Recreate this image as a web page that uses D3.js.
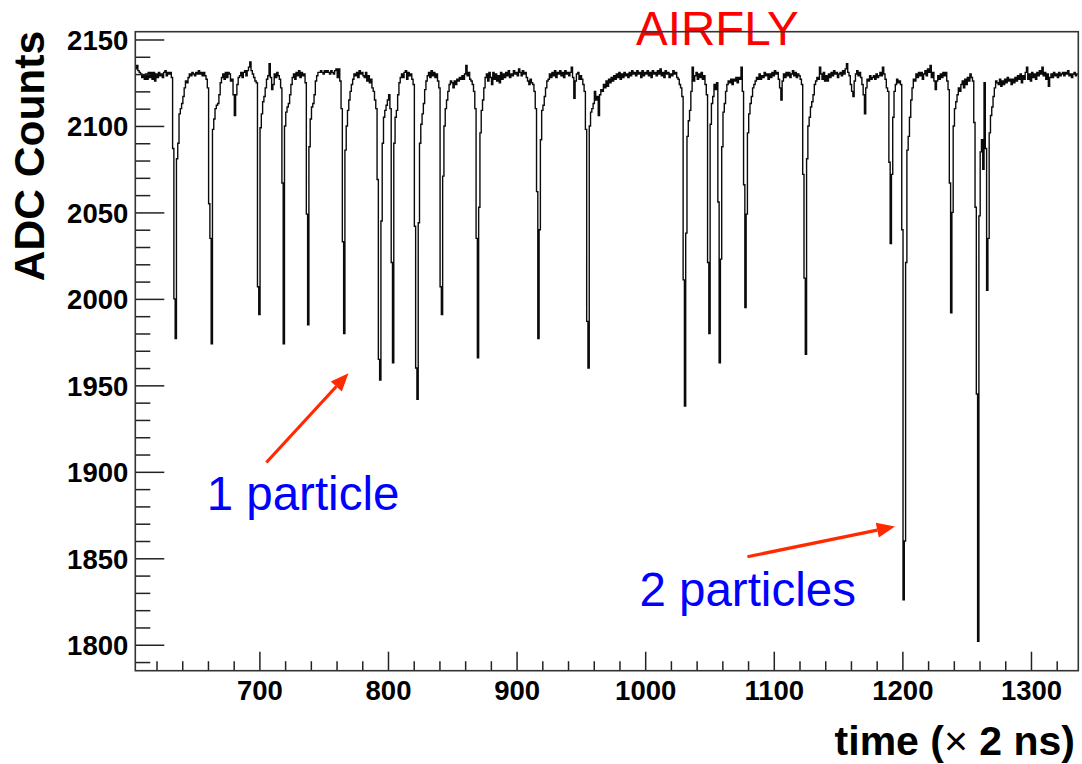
<!DOCTYPE html>
<html><head><meta charset="utf-8">
<script src="https://cdn.jsdelivr.net/npm/d3@7"></script>
<style>
body{margin:0;background:#fff}
svg{display:block}
text{font-family:"Liberation Sans", Arial, Helvetica, sans-serif}
</style>
</head><body>
<svg id="chart" width="1082" height="764"></svg>
<script>
// ADC trace: [time bin (x 2 ns), ADC counts]; each value holds until the next listed bin
const trace = [
[604,2133],[605,2135],[606,2132],[607,2131],[608,2130],[609,2128],[610,2129],[611,2127],[612,2130],[613,2127],
[614,2131],[615,2128],[616,2131],[617,2127],[618,2131],[619,2126],[620,2130],[621,2128],[622,2131],[623,2129],
[624,2130],[625,2128],[626,2131],[627,2132],[628,2129],[629,2131],[630,2130],[631,2131],[632,2128],
[633,2087],[634,2000],[635,1977],[636,2081],[637,2090],[638,2107],[639,2110],[640,2113],[641,2117],[642,2122],[643,2126],[644,2125],
[645,2128],[646,2130],[647,2129],[648,2131],[649,2130],[650,2129],[651,2131],[652,2130],[653,2132],[654,2130],
[655,2131],[656,2129],[657,2131],[658,2129],[659,2127],[660,2122],
[661,2055],[662,2035],[663,1974],[664,2098],[665,2104],[666,2110],[667,2112],[668,2113],[669,2118],[670,2125],[671,2128],
[672,2130],[673,2127],[674,2131],[675,2128],[676,2131],[677,2130],[678,2126],[679,2127],[680,2118],[681,2106],
[682,2118],[683,2124],[684,2128],[685,2129],[686,2131],[687,2128],[688,2131],[689,2132],[690,2129],[691,2132],
[692,2134],[693,2137],[694,2132],[695,2130],[696,2128],[697,2126],[698,2125],
[699,2007],[700,1991],[701,2099],[702,2107],[703,2114],[704,2117],[705,2122],[706,2127],
[707,2129],[708,2136],[709,2128],[710,2121],[711,2124],[712,2130],[713,2128],[714,2131],[715,2129],[716,2127],[717,2122],
[718,2067],[719,1974],[720,2100],[721,2108],[722,2111],[723,2113],[724,2118],[725,2124],[726,2128],
[727,2130],[728,2127],[729,2131],[730,2129],[731,2132],[732,2128],[733,2131],[734,2129],[735,2130],[736,2125],
[737,2049],[738,1985],[739,2088],[740,2104],[741,2111],[742,2113],[743,2118],[744,2126],
[745,2129],[746,2131],[747,2131],[748,2132],[749,2131],[750,2130],[751,2132],[752,2131],[753,2132],[754,2131],
[755,2130],[756,2132],[757,2131],[758,2130],[759,2132],[760,2133],[761,2128],[762,2133],[763,2126],
[764,2110],[765,2033],[766,1980],[767,2086],[768,2100],[769,2109],[770,2115],[771,2120],[772,2124],[773,2127],
[774,2130],[775,2129],[776,2131],[777,2128],[778,2132],[779,2130],[780,2131],[781,2129],[782,2128],[783,2131],
[784,2126],[785,2129],[786,2125],[787,2127],[788,2122],[789,2120],[790,2115],[791,2110],
[792,2069],[793,1965],[794,1953],[795,2045],[796,2090],[797,2105],[798,2109],[799,2112],[800,2115],
[801,2118],[802,2110],[803,2021],[804,1963],[805,2090],[806,2105],[807,2109],[808,2118],[809,2125],[810,2128],
[811,2130],[812,2128],[813,2131],[814,2132],[815,2127],[816,2131],[817,2129],[818,2130],[819,2127],[820,2124],
[821,2042],[822,1960],[823,1942],[824,2044],[825,2090],[826,2101],[827,2107],[828,2113],[829,2121],[830,2126],
[831,2129],[832,2131],[833,2128],[834,2132],[835,2129],[836,2131],[837,2128],[838,2130],[839,2126],[840,2122],
[841,2007],[842,1991],[843,2071],[844,2100],[845,2110],[846,2115],[847,2120],[848,2124],[849,2126],
[850,2125],[851,2122],[852,2126],[853,2124],[854,2127],[855,2126],[856,2128],[857,2127],[858,2129],[859,2127],
[860,2130],[861,2135],[862,2129],[863,2131],[864,2127],[865,2126],[866,2124],[867,2120],
[868,2110],[869,2035],[870,1966],[871,2053],[872,2096],[873,2109],[874,2115],[875,2122],[876,2128],
[877,2130],[878,2126],[879,2131],[880,2128],[881,2124],[882,2131],[883,2127],[884,2130],[885,2126],[886,2129],
[887,2125],[888,2131],[889,2127],[890,2130],[891,2128],[892,2131],[893,2129],[894,2132],[895,2128],[896,2130],
[897,2129],[898,2132],[899,2130],[900,2131],[901,2129],[902,2133],[903,2131],[904,2129],[905,2132],[906,2130],
[907,2131],[908,2128],[909,2126],[910,2124],[911,2127],[912,2125],[913,2124],[914,2120],
[915,2110],[916,2062],[917,1977],[918,2040],[919,2092],[920,2109],[921,2112],[922,2117],[923,2122],[924,2126],
[925,2127],[926,2130],[927,2128],[928,2131],[929,2129],[930,2132],[931,2128],[932,2131],[933,2130],[934,2132],
[935,2129],[936,2131],[937,2128],[938,2132],[939,2130],[940,2131],[941,2129],[942,2131],[943,2134],[944,2128],
[945,2116],[946,2126],[947,2130],[948,2131],[949,2127],[950,2129],[951,2127],[952,2124],[953,2120],
[954,2098],[955,1987],[956,1960],[957,2100],[958,2108],[959,2110],[960,2113],[961,2120],
[962,2115],[963,2117],[964,2106],[965,2118],[966,2121],[967,2120],[968,2124],[969,2122],[970,2126],[971,2123],
[972,2127],[973,2125],[974,2128],[975,2126],[976,2129],[977,2127],[978,2130],[979,2128],[980,2131],[981,2127],
[982,2130],[983,2128],[984,2131],[985,2129],[986,2130],[987,2128],[988,2131],[989,2129],[990,2132],[991,2130],
[992,2131],[993,2129],[994,2132],[995,2130],[996,2131],[997,2128],[998,2132],[999,2129],[1000,2131],[1001,2130],
[1002,2132],[1003,2129],[1004,2131],[1005,2128],[1006,2132],[1007,2130],[1008,2131],[1009,2129],[1010,2132],[1011,2130],
[1012,2133],[1013,2129],[1014,2131],[1015,2128],[1016,2132],[1017,2130],[1018,2131],[1019,2128],[1020,2130],[1021,2129],
[1022,2132],[1023,2130],[1024,2131],[1025,2128],[1026,2127],[1027,2124],[1028,2122],[1029,2117],
[1030,2011],[1031,1938],[1032,2038],[1033,2094],[1034,2103],[1035,2109],[1036,2120],[1037,2134],[1038,2126],
[1039,2129],[1040,2131],[1041,2127],[1042,2130],[1043,2128],[1044,2131],[1045,2127],[1046,2129],[1047,2124],[1048,2118],
[1049,2021],[1050,1980],[1051,2101],[1052,2113],[1053,2117],[1054,2124],[1055,2121],[1056,2125],
[1057,2056],[1058,1963],[1059,2023],[1060,2088],[1061,2108],[1062,2113],[1063,2120],[1064,2124],[1065,2126],
[1066,2125],[1067,2127],[1068,2124],[1069,2127],[1070,2126],[1071,2128],[1072,2125],[1073,2128],[1074,2127],[1075,2134],[1076,2120],
[1077,2066],[1078,1995],[1079,2049],[1080,2096],[1081,2107],[1082,2113],[1083,2117],[1084,2122],[1085,2124],[1086,2126],
[1087,2128],[1088,2127],[1089,2130],[1090,2127],[1091,2129],[1092,2128],[1093,2131],[1094,2129],[1095,2130],[1096,2127],
[1097,2130],[1098,2128],[1099,2131],[1100,2129],[1101,2132],[1102,2130],[1103,2131],[1104,2127],[1105,2122],[1106,2115],
[1107,2126],[1108,2130],[1109,2128],[1110,2131],[1111,2129],[1112,2131],[1113,2128],[1114,2130],[1115,2132],[1116,2129],
[1117,2131],[1118,2128],[1119,2130],[1120,2129],[1121,2127],[1122,2124],
[1123,2072],[1124,2012],[1125,1968],[1126,2081],[1127,2100],[1128,2105],[1129,2111],[1130,2114],[1131,2118],[1132,2124],
[1133,2126],[1134,2128],[1135,2127],[1136,2134],[1137,2130],[1138,2127],[1139,2131],[1140,2126],[1141,2129],[1142,2126],
[1143,2130],[1144,2128],[1145,2131],[1146,2129],[1147,2132],[1148,2130],[1149,2131],[1150,2128],[1151,2130],[1152,2131],
[1153,2129],[1154,2132],[1155,2130],[1156,2133],[1157,2136],[1158,2131],[1159,2129],[1160,2124],[1161,2120],[1162,2117],
[1163,2126],[1164,2130],[1165,2132],[1166,2129],[1167,2131],[1168,2128],[1169,2124],[1170,2118],[1171,2107],[1172,2122],
[1173,2127],[1174,2126],[1175,2129],[1176,2127],[1177,2128],[1178,2129],[1179,2127],[1180,2130],[1181,2128],[1182,2129],
[1183,2131],[1184,2129],[1185,2134],[1186,2130],[1187,2127],[1188,2122],[1189,2120],
[1190,2079],[1191,2032],[1192,2072],[1193,2105],[1194,2120],[1195,2124],[1196,2127],[1197,2125],[1198,2126],[1199,2124],
[1200,2040],[1201,1826],[1202,1860],[1203,2021],[1204,2086],[1205,2094],[1206,2105],[1207,2115],[1208,2122],[1209,2127],
[1210,2126],[1211,2130],[1212,2128],[1213,2131],[1214,2129],[1215,2131],[1216,2127],[1217,2130],[1218,2132],[1219,2129],
[1220,2133],[1221,2131],[1222,2135],[1223,2128],[1224,2131],[1225,2126],[1226,2121],[1227,2126],[1228,2129],[1229,2127],
[1230,2130],[1231,2128],[1232,2131],[1233,2129],[1234,2131],[1235,2126],[1236,2121],
[1237,2067],[1238,1992],[1239,2050],[1240,2100],[1241,2110],[1242,2114],[1243,2118],[1244,2122],
[1245,2120],[1246,2124],[1247,2126],[1248,2122],[1249,2127],[1250,2124],[1251,2128],[1252,2126],[1253,2130],[1254,2128],[1255,2126],
[1256,2102],[1257,2053],[1258,1945],[1259,1802],[1260,2048],[1261,2085],[1262,2092],[1263,2075],[1264,2125],[1265,2087],
[1266,2005],[1267,2035],[1268,2096],[1269,2106],[1270,2111],[1271,2117],[1272,2122],[1273,2126],
[1274,2125],[1275,2124],[1276,2127],[1277,2123],[1278,2126],[1279,2124],[1280,2127],[1281,2125],[1282,2128],[1283,2126],
[1284,2127],[1285,2124],[1286,2127],[1287,2125],[1288,2128],[1289,2126],[1290,2129],[1291,2127],[1292,2130],[1293,2125],
[1294,2129],[1295,2127],[1296,2131],[1297,2134],[1298,2127],[1299,2130],[1300,2126],[1301,2131],[1302,2128],[1303,2130],
[1304,2127],[1305,2131],[1306,2129],[1307,2132],[1308,2130],[1309,2134],[1310,2129],[1311,2131],[1312,2127],[1313,2130],
[1314,2123],[1315,2128],[1316,2130],[1317,2128],[1318,2131],[1319,2129],[1320,2130],[1321,2128],[1322,2131],[1323,2129],
[1324,2130],[1325,2131],[1326,2129],[1327,2131],[1328,2130],[1329,2132],[1330,2129],[1331,2130],[1332,2128],[1333,2130],
[1334,2131],[1335,2129],[1336,2130]
];
const xDomain = [603.5, 1336.8];
const yDomain = [1785, 2154.5];
const xTickValues = [700, 800, 900, 1000, 1100, 1200, 1300];
const yTickValues = [1800, 1850, 1900, 1950, 2000, 2050, 2100, 2150];
const annotations = [
  {text: "1 particle", t: 659, adc: 1878},
  {text: "2 particles", t: 995.5, adc: 1822.5}
];
const arrows = [
  {from: [705.4, 1905.4], to: [769.3, 1957]},
  {from: [1079.5, 1850.9], to: [1194.2, 1868.4]}
];

const svg = d3.select("#chart");
const M = {left: 135.3, right: 1078.3, top: 31.7, bottom: 670.7};
const x = d3.scaleLinear().domain(xDomain).range([M.left, M.right]);
const y = d3.scaleLinear().domain(yDomain).range([M.bottom, M.top]);

// title (frame drawn over it later)
svg.append("text").attr("x", 636).attr("y", 45)
  .attr("fill", "#ff0000").attr("font-size", 47.5).text("AIRFLY");

svg.append("clipPath").attr("id", "clip").append("rect")
  .attr("x", M.left).attr("y", M.top).attr("width", M.right - M.left).attr("height", M.bottom - M.top);

// histogram outline
const pts = trace.map(([t, v]) => [t - 0.5, v]);
pts.push([xDomain[1], trace[trace.length - 1][1]]);
const line = d3.line().x(d => x(d[0])).y(d => y(d[1])).curve(d3.curveStepAfter);
svg.append("path").attr("clip-path", "url(#clip)").datum(pts)
  .attr("d", line).attr("fill", "none").attr("stroke", "#0a0a0a").attr("stroke-width", 1.4);

// axes
const yMinor = d3.range(1790, 2151, 10).filter(v => v % 50 !== 0);
const xMinor = d3.range(620, 1337, 20).filter(v => v % 100 !== 0);
const gy = svg.append("g").attr("transform", `translate(${M.left},0)`);
gy.call(d3.axisLeft(y).tickValues(yMinor).tickSize(-15).tickFormat(""));
const gy2 = svg.append("g").attr("transform", `translate(${M.left},0)`);
gy2.call(d3.axisLeft(y).tickValues(yTickValues).tickSize(-29).tickPadding(7).tickFormat(d3.format("d")));
const gx = svg.append("g").attr("transform", `translate(0,${M.bottom})`);
gx.call(d3.axisBottom(x).tickValues(xMinor).tickSize(-9.5).tickFormat(""));
const gx2 = svg.append("g").attr("transform", `translate(0,${M.bottom})`);
gx2.call(d3.axisBottom(x).tickValues(xTickValues).tickSize(-19).tickPadding(10).tickFormat(d3.format("d")));
[gy, gy2, gx, gx2].forEach(g => {
  g.select(".domain").remove();
  g.selectAll(".tick line").attr("stroke", "#222").attr("stroke-width", 1.5);
  g.selectAll(".tick text").attr("font-family", "'Liberation Sans', Arial, sans-serif")
    .attr("font-size", 27.5).attr("font-weight", "bold").attr("fill", "#000");
});
gy2.selectAll(".tick text").attr("dy", "0.36em");

// frame
svg.append("rect").attr("x", M.left).attr("y", M.top)
  .attr("width", M.right - M.left).attr("height", M.bottom - M.top)
  .attr("fill", "none").attr("stroke", "#333").attr("stroke-width", 1.6);

// axis titles
svg.append("text").attr("transform", "translate(44,156) rotate(-90)")
  .attr("text-anchor", "middle").attr("font-size", 42.5).attr("font-weight", "bold").text("ADC Counts");
const xt = svg.append("text").attr("x", 1075).attr("y", 755)
  .attr("text-anchor", "end").attr("font-size", 41).attr("font-weight", "bold");
xt.append("tspan").text("time (");
xt.append("tspan").attr("font-weight", "normal").text("\u00d7");
xt.append("tspan").text(" 2 ns)");

// annotations
svg.selectAll("text.ann").data(annotations).enter().append("text").attr("class", "ann")
  .attr("x", d => x(d.t)).attr("y", d => y(d.adc))
  .attr("fill", "#0000ff").attr("font-size", 47.5).text(d => d.text);

const arrowColor = "#ff2a00";
arrows.forEach(a => {
  const x0 = x(a.from[0]), y0 = y(a.from[1]), x1 = x(a.to[0]), y1 = y(a.to[1]);
  const ang = Math.atan2(y1 - y0, x1 - x0);
  const hl = 18, hw = 7.5;
  const bx = x1 - hl * Math.cos(ang), by = y1 - hl * Math.sin(ang);
  svg.append("line").attr("x1", x0).attr("y1", y0).attr("x2", bx).attr("y2", by)
    .attr("stroke", arrowColor).attr("stroke-width", 3.2);
  const px = -Math.sin(ang), py = Math.cos(ang);
  svg.append("path").attr("d", `M${x1},${y1}L${bx + hw * px},${by + hw * py}L${bx - hw * px},${by - hw * py}Z`)
    .attr("fill", arrowColor);
});
</script>
</body></html>
